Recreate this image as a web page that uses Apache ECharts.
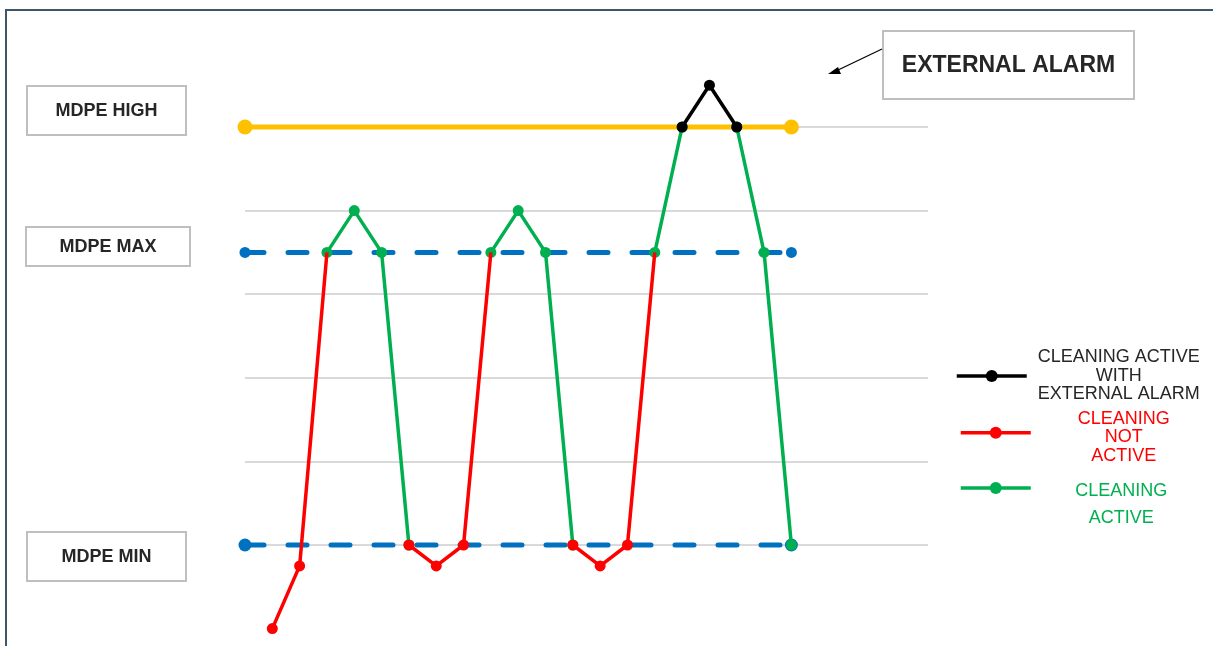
<!DOCTYPE html>
<html>
<head>
<meta charset="utf-8">
<script src="https://cdn.jsdelivr.net/npm/echarts@6/dist/echarts.min.js"></script>
<style>
  html, body { margin: 0; padding: 0; background: #fff; }
  #chart { width: 1213px; height: 646px; }
</style>
</head>
<body>
<div id="chart"></div>
<script>
// sample steps along the x axis
const steps = [0, 1, 2, 3, 4, 5, 6, 7, 8, 9, 10, 11, 12, 13, 14, 15, 16, 17, 18, 19, 20];

const notActive = [null, -1, -0.25, 3.5, null, null, 0, -0.25, 0, 3.5, null, null, 0, -0.25, 0, 3.5, null, null, null, null, null];
const active    = [null, null, null, 3.5, 4, 3.5, 0, null, null, 3.5, 4, 3.5, 0, null, null, 3.5, 5, null, 5, 3.5, 0];
const withAlarm = [null, null, null, null, null, null, null, null, null, null, null, null, null, null, null, null, 5, 5.5, 5, null, null];

// limit lines, drawn between first and last step
const limitX = [0, 20];
const mdpeHigh = [5, 5];
const mdpeMax = [3.5, 3.5];
const mdpeMin = [0, 0];

const FONT = 'Liberation Sans, Arial, sans-serif';

function pairs(xs, ys) {
    return xs.map((x, i) => (ys[i] == null ? [x, '-'] : [x, ys[i]]));
}

// red dot is hidden where the red line joins the green one at MDPE MAX
function notActiveData() {
    return steps.map((x, i) => {
        const v = notActive[i];
        if (v == null) return [x, '-'];
        if (active[i] != null && v === mdpeMax[0]) return { value: [x, v], symbol: 'none' };
        return [x, v];
    });
}

function limitSeries(name, ys, color, dashed, dot) {
    return {
        name: name,
        type: 'line',
        data: pairs(limitX, ys),
        symbol: 'circle',
        symbolSize: dot,
        itemStyle: { color: color },
        lineStyle: {
            color: color,
            width: 5,
            type: dashed ? [19, 24] : 'solid',
            cap: 'round'
        },
        clip: false,
        silent: true,
        z: 1
    };
}

function box(x, y, w, h, text, size) {
    return [
        {
            type: 'rect',
            shape: { x: x, y: y, width: w, height: h },
            style: { fill: '#fff', stroke: '#bfbfbf', lineWidth: 2 }
        },
        {
            type: 'text',
            x: x + w / 2,
            y: y + h / 2 + 1,
            style: {
                text: text,
                fill: '#262626',
                font: 'bold ' + size + 'px ' + FONT,
                align: 'center',
                verticalAlign: 'middle'
            }
        }
    ];
}

// spacer = height of an empty first line, used to lift the icon above the text centre
function legendOf(name, left, top, color, lines, lineHeight, boxWidth, spacer) {
    return {
        data: [name],
        left: left,
        top: top,
        padding: 0,
        itemWidth: 70,
        itemHeight: 15,
        selectedMode: false,
        lineStyle: { width: 3.5 },
        formatter: () => (spacer ? '{s| }\n' : '') + lines.map(t => '{c|' + t + '}').join('\n'),
        textStyle: {
            rich: {
                s: { fontSize: 1, lineHeight: spacer || 1 },
                c: {
                    width: boxWidth,
                    align: 'center',
                    color: color,
                    fontSize: 18,
                    fontFamily: FONT,
                    lineHeight: lineHeight
                }
            }
        }
    };
}

const myChart = echarts.init(document.getElementById('chart'));

const option = {
    animation: false,
    grid: { left: 245, right: 285, top: 127, bottom: 101 },
    xAxis: {
        type: 'value',
        min: 0,
        max: 25,
        show: false
    },
    yAxis: {
        type: 'value',
        min: 0,
        max: 5,
        interval: 1,
        axisLine: { show: false },
        axisTick: { show: false },
        axisLabel: { show: false },
        splitLine: { lineStyle: { color: '#d9d9d9', width: 2 } }
    },
    legend: [
        legendOf('CLEANING ACTIVE WITH EXTERNAL ALARM', 955, 348.5, '#262626',
            ['CLEANING ACTIVE', 'WITH', 'EXTERNAL ALARM'], 18.5, 174, 0),
        legendOf('CLEANING NOT ACTIVE', 959, 404.5, '#ff0000',
            ['CLEANING', 'NOT', 'ACTIVE'], 18.5, 176, 9),
        legendOf('CLEANING ACTIVE', 959, 460.5, '#00b050',
            ['CLEANING', 'ACTIVE'], 27, 171, 33)
    ],
    series: [
        limitSeries('MDPE HIGH', mdpeHigh, '#ffc000', false, 15),
        limitSeries('MDPE MAX', mdpeMax, '#0070c0', true, 11),
        limitSeries('MDPE MIN', mdpeMin, '#0070c0', true, 13),
        {
            name: 'CLEANING ACTIVE',
            type: 'line',
            data: pairs(steps, active),
            symbol: 'circle',
            symbolSize: 11,
            itemStyle: { color: '#00b050' },
            lineStyle: { color: '#00b050', width: 3.5 },
            clip: false,
            z: 3
        },
        {
            name: 'CLEANING NOT ACTIVE',
            type: 'line',
            data: notActiveData(),
            symbol: 'circle',
            symbolSize: 11,
            itemStyle: { color: '#ff0000' },
            lineStyle: { color: '#ff0000', width: 3.5 },
            clip: false,
            z: 4
        },
        {
            name: 'CLEANING ACTIVE WITH EXTERNAL ALARM',
            type: 'line',
            data: pairs(steps, withAlarm),
            symbol: 'circle',
            symbolSize: 11,
            itemStyle: { color: '#000000' },
            lineStyle: { color: '#000000', width: 3.5 },
            clip: false,
            z: 5
        }
    ],
    graphic: [
        // outer frame
        {
            type: 'rect',
            shape: { x: 6, y: 10, width: 1230, height: 660 },
            style: { fill: 'none', stroke: '#3d5668', lineWidth: 2 },
            z: 0
        },
        ...box(27, 86, 159, 49, 'MDPE HIGH', 18),
        ...box(26, 227, 164, 39, 'MDPE MAX', 18),
        ...box(27, 532, 159, 49, 'MDPE MIN', 18),
        ...box(883, 31, 251, 68, 'EXTERNAL ALARM', 23),
        {
            type: 'line',
            shape: { x1: 882, y1: 49, x2: 836, y2: 71 },
            style: { stroke: '#000', lineWidth: 1.2 }
        },
        {
            type: 'polygon',
            shape: { points: [[828, 74], [838, 67], [841, 74]] },
            style: { fill: '#000' }
        }
    ]
};

myChart.setOption(option);
</script>
</body>
</html>
